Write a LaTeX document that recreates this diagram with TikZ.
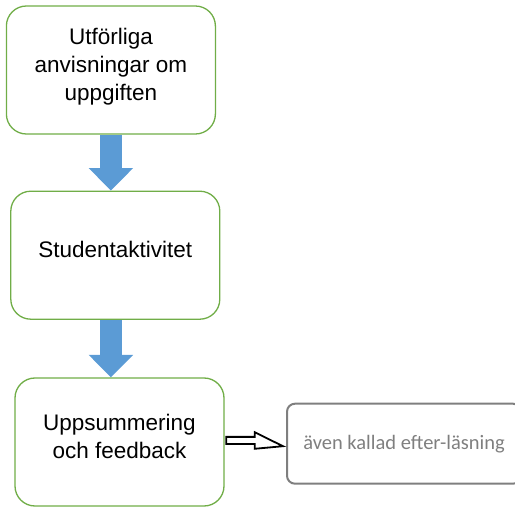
\documentclass[tikz,border=0pt]{standalone}
\usepackage{fontspec}
\setmainfont{Liberation Sans}
\newfontfamily\notefont{Carlito}
\usepackage{tikz}
\usetikzlibrary{arrows.meta,calc}
\definecolor{boxgreen}{RGB}{112,173,71}
\definecolor{arrowblue}{RGB}{91,155,213}
\definecolor{notegray}{RGB}{127,127,127}

\begin{document}
\begin{tikzpicture}[>=Latex,x=1pt,y=1pt,
  stepbox/.style={draw=boxgreen,line width=1.3pt,rounded corners=20pt,inner sep=0pt,
    minimum width=209pt,minimum height=128pt,align=center,
    font=\fontsize{22.5}{28}\selectfont,execute at end node={\rule[-12pt]{0pt}{12pt}}},
  notebox/.style={draw=notegray,line width=2pt,rounded corners=8pt,inner sep=0pt,
    minimum width=234pt,minimum height=80pt,text=notegray,font=\notefont\fontsize{20.5}{24}\selectfont},
  blockarrow/.style={draw=arrowblue,line width=22.5pt,
    -{Triangle[width=44.5pt,length=22.5pt,line width=0pt]}},
  hollowarrow/.style={draw=black,fill=white,line width=1.8pt,miter limit=10}]
\useasboundingbox (0,0) rectangle (515,507);
\node[stepbox] (task) at (110.9,437) {Utförliga\\anvisningar om\\uppgiften};
\node[stepbox] (activity) at (115.3,251.8) {Studentaktivitet};
\node[stepbox] (summary) at (119.5,65) {Uppsummering\\och feedback};
\node[notebox] (note) at (404,63.3) {även kallad efter-läsning};
\draw[blockarrow] (task.south) -- (task.south |- activity.north);
\draw[blockarrow] (task.south |- activity.south) -- (task.south |- summary.north);
% open arrow to the side note
\coordinate (tail) at ($(summary.east)+(1.5,1.5)$);
\coordinate (tip) at ($(note.west)+(-3,-2.5)$);
\draw[hollowarrow] ($(tail)+(0,3.6)$) -- ($(tail)+(28.5,3.6)$) -- ($(tail)+(28.5,8.3)$) -- (tip)
  -- ($(tail)+(28.5,-8.3)$) -- ($(tail)+(28.5,-3.6)$) -- ($(tail)+(0,-3.6)$) -- cycle;
\end{tikzpicture}
\end{document}
